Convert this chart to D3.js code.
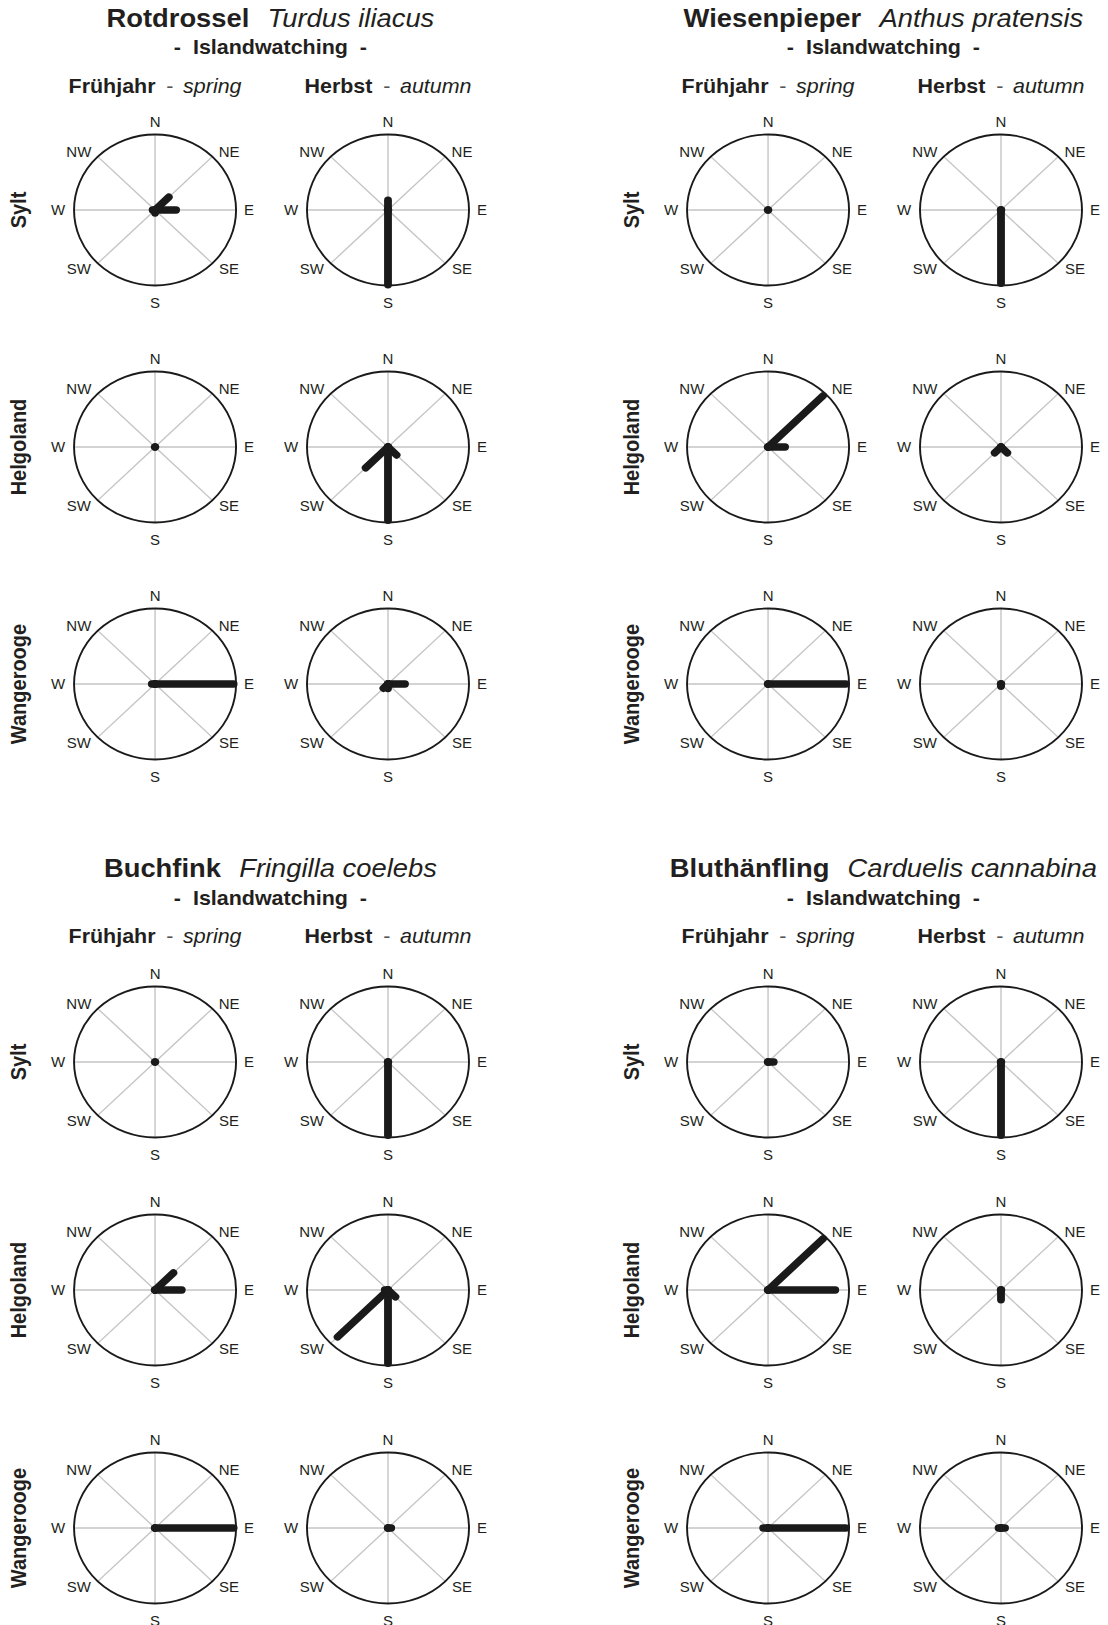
<!DOCTYPE html>
<html>
<head>
<meta charset="utf-8">
<script src="https://cdn.jsdelivr.net/npm/d3@7"></script>
<style>
  body { margin: 0; background: #fff; }
  text { font-family: "Liberation Sans", Arial, sans-serif; fill: #231f20; }
</style>
</head>
<body>
<div id="chart"></div>
<script>
// directions clockwise from north
var directions = ["N", "NE", "E", "SE", "S", "SW", "W", "NW"];
var islands = ["Sylt", "Helgoland", "Wangerooge"];
var seasonDe = ["Frühjahr", "Herbst"];
var seasonEn = ["spring", "autumn"];
var speciesDe = ["Rotdrossel", "Wiesenpieper", "Buchfink", "Bluthänfling"];
var speciesLat = ["Turdus iliacus", "Anthus pratensis", "Fringilla coelebs", "Carduelis cannabina"];

// share per flight direction (%), one row per island (Sylt, Helgoland, Wangerooge)
var rotdrosselSpring = [
  [0, 24, 26, 0, 4, 0, 3, 0],
  [0, 0, 0, 0, 0, 0, 0, 0],
  [0, 0, 97, 0, 0, 0, 4, 0]];
var rotdrosselAutumn = [
  [13, 0, 0, 0, 99, 0, 0, 0],
  [0, 0, 0, 15, 97, 39, 0, 0],
  [0, 0, 21, 0, 6, 8, 0, 0]];
var wiesenpieperSpring = [
  [0, 0, 0, 0, 0, 0, 0, 0],
  [0, 96, 21, 0, 0, 0, 0, 0],
  [0, 0, 96, 0, 0, 0, 0, 0]];
var wiesenpieperAutumn = [
  [0, 0, 0, 0, 97, 0, 0, 0],
  [0, 0, 0, 11, 0, 11, 0, 0],
  [0, 0, 0, 0, 3, 0, 0, 0]];
var buchfinkSpring = [
  [0, 0, 0, 0, 0, 0, 0, 0],
  [0, 32, 33, 0, 0, 0, 0, 0],
  [0, 0, 97, 0, 0, 0, 0, 0]];
var buchfinkAutumn = [
  [0, 0, 0, 0, 97, 0, 0, 0],
  [0, 0, 0, 13, 97, 88, 4, 0],
  [0, 0, 4, 0, 0, 0, 0, 0]];
var hanflingSpring = [
  [0, 0, 7, 0, 0, 0, 0, 0],
  [0, 96, 83, 0, 0, 0, 0, 0],
  [0, 0, 96, 0, 0, 0, 6, 0]];
var hanflingAutumn = [
  [0, 0, 0, 0, 97, 0, 0, 0],
  [0, 0, 0, 0, 13, 0, 0, 0],
  [0, 0, 5, 0, 0, 0, 3, 0]];

var speciesData = [
  [rotdrosselSpring, rotdrosselAutumn],
  [wiesenpieperSpring, wiesenpieperAutumn],
  [buchfinkSpring, buchfinkAutumn],
  [hanflingSpring, hanflingAutumn]];

function init() {
  var w = 1108, h = 1625;
  var stretch = 1.073;   // the original figure is a bit wider than tall
  var R = 75.5;

  var svg = d3.select("#chart").append("svg")
      .attr("width", w)
      .attr("height", h);
  var root = svg.append("g").attr("transform", "scale(" + stretch + ",1)");

  var panelX = [0, 571.3];
  var titleY = [27, 877];
  var subY = [54, 905];
  var headY = [93, 943];
  var rowY = [[210, 447, 684], [1062, 1290, 1528]];
  var colX = [144.5, 361.6];
  var titleX = 252;

  var rScale = d3.scaleLinear().domain([0, 100]).range([0, R]);

  // label offsets around each rose
  var labelPos = {
    N: [0, -88], NE: [69, -58.5], E: [87.6, 0], SE: [69, 59.3],
    S: [0, 92.5], SW: [-71, 59.3], W: [-90.4, 0], NW: [-71, -58.3]
  };

  function drawRose(g, values) {
    g.append("g").selectAll("line")
      .data(directions)
      .join("line")
      .attr("x1", 0).attr("y1", 0)
      .attr("x2", function(d, i) { return d3.pointRadial(i * Math.PI / 4, R)[0]; })
      .attr("y2", function(d, i) { return d3.pointRadial(i * Math.PI / 4, R)[1]; })
      .attr("stroke", "#c4c4c4")
      .attr("stroke-width", 1.3);

    g.append("circle")
      .attr("r", R)
      .attr("fill", "none")
      .attr("stroke", "#1a1a1a")
      .attr("stroke-width", 1.8);

    g.append("g").selectAll("text")
      .data(directions)
      .join("text")
      .attr("x", function(d) { return labelPos[d][0]; })
      .attr("y", function(d) { return labelPos[d][1]; })
      .attr("dy", "0.36em")
      .attr("text-anchor", "middle")
      .attr("font-size", 14)
      .text(function(d) { return d; });

    var bars = values.map(function(v, i) { return { v: v, a: i * Math.PI / 4 }; })
      .filter(function(d) { return d.v > 0; });

    g.append("g").selectAll("line")
      .data(bars)
      .join("line")
      .attr("x1", 0).attr("y1", 0)
      .attr("x2", function(d) { return d3.pointRadial(d.a, rScale(d.v))[0]; })
      .attr("y2", function(d) { return d3.pointRadial(d.a, rScale(d.v))[1]; })
      .attr("stroke", "#1a1a1a")
      .attr("stroke-width", 7.3)
      .attr("stroke-linecap", "round");

    g.append("circle")
      .attr("r", 4)
      .attr("fill", "#1a1a1a");
  }

  speciesDe.forEach(function(name, s) {
    var bx = panelX[s % 2];
    var by = Math.floor(s / 2);
    var block = root.append("g").attr("transform", "translate(" + bx + ",0)");

    var t = block.append("text")
      .attr("x", titleX).attr("y", titleY[by])
      .attr("text-anchor", "middle")
      .attr("font-size", 25.5);
    t.append("tspan").attr("font-weight", "bold").text(name);
    t.append("tspan").attr("font-style", "italic").attr("dx", 17).text(speciesLat[s]);

    block.append("text")
      .attr("x", titleX).attr("y", subY[by])
      .attr("text-anchor", "middle")
      .attr("font-size", 20)
      .attr("font-weight", "bold")
      .style("white-space", "pre")
      .text("-  Islandwatching  -");

    seasonDe.forEach(function(sd, c) {
      var ht = block.append("text")
        .attr("x", colX[c]).attr("y", headY[by])
        .attr("text-anchor", "middle")
        .attr("font-size", 20);
      ht.append("tspan").attr("font-weight", "bold").text(sd);
      ht.append("tspan").attr("dx", 10).attr("fill", "#555").text("-");
      ht.append("tspan").attr("dx", 9).attr("font-style", "italic").text(seasonEn[c]);
    });

    islands.forEach(function(isl, r) {
      var cy = rowY[by][r];
      block.append("text")
        .attr("transform", "translate(24," + cy + ") rotate(-90)")
        .attr("text-anchor", "middle")
        .attr("font-size", 20)
        .attr("font-weight", "bold")
        .text(isl);

      seasonDe.forEach(function(sd, c) {
        var g = block.append("g")
          .attr("transform", "translate(" + colX[c] + "," + cy + ")");
        drawRose(g, speciesData[s][c][r]);
      });
    });
  });
}
window.onload = init;
</script>
</body>
</html>
